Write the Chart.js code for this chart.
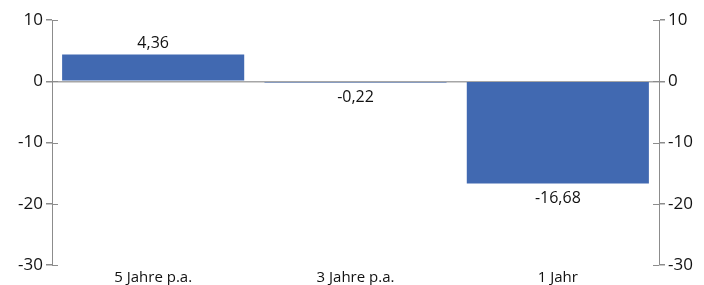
<!DOCTYPE html>
<html>
<head>
<meta charset="utf-8">
<script src="https://cdn.jsdelivr.net/npm/chart.js@4"></script>
<style>
  html, body { margin: 0; padding: 0; background: #fff; }
  #wrap { width: 704px; height: 285px; }
</style>
</head>
<body>
<div id="wrap"><canvas id="perfChart" width="704" height="285"></canvas></div>
<script>
// Wertentwicklung - bar chart, axes left and right
const categories = ['5 Jahre p.a.', '3 Jahre p.a.', '1 Jahr'];
const values = [4.36, -0.22, -16.68];
const yTicks = [10, 0, -10, -20, -30];

const BAR_COLOR = '#4169b1';
const AXIS_COLOR = '#8c8c8c';
const TEXT_COLOR = '#111';
const FONT = '"Open Sans", sans-serif';

function fmt(v) { return String(v.toFixed(2)).replace('.', ','); }

// value labels + tick marks crossing into the plot
const valueLabels = {
  id: 'valueLabels',
  afterDatasetsDraw(chart) {
    const ctx = chart.ctx;
    const meta = chart.getDatasetMeta(0);
    ctx.save();
    ctx.font = '16px ' + FONT;
    ctx.fillStyle = TEXT_COLOR;
    ctx.textAlign = 'center';
    meta.data.forEach((bar, i) => {
      const v = values[i];
      if (v >= 0) {
        ctx.textBaseline = 'bottom';
        ctx.fillText(fmt(v), bar.x, bar.y - 3);
      } else {
        ctx.textBaseline = 'top';
        ctx.fillText(fmt(v), bar.x, bar.y + 7);
      }
    });
    // inner half of the crossing ticks
    ctx.strokeStyle = AXIS_COLOR;
    ctx.lineWidth = 1;
    ['y', 'y2'].forEach(id => {
      const s = chart.scales[id];
      const x = id === 'y' ? s.right : s.left;
      const dir = id === 'y' ? 1 : -1;
      yTicks.forEach(t => {
        const py = Math.round(s.getPixelForValue(t)) + 0.5;
        ctx.beginPath();
        ctx.moveTo(x, py);
        ctx.lineTo(x + dir * 6, py);
        ctx.stroke();
      });
    });
    ctx.restore();
  }
};

const yScale = (pos) => ({
  position: pos,
  min: -30,
  max: 10,
  afterBuildTicks: s => { s.ticks = yTicks.map(v => ({ value: v })); },
  afterFit: s => { s.width = pos === 'left' ? 52 : 45; },
  border: { display: true, color: AXIS_COLOR, width: 1 },
  grid: {
    drawOnChartArea: pos === 'left',
    color: c => (c.tick && c.tick.value === 0) ? '#a6a6a6' : 'rgba(0,0,0,0)',
    lineWidth: 1.5,
    tickColor: AXIS_COLOR,
    tickLength: 6
  },
  ticks: {
    color: TEXT_COLOR,
    font: { family: FONT, size: 17 },
    padding: 3
  }
});

new Chart(document.getElementById('perfChart'), {
  type: 'bar',
  data: {
    labels: categories,
    datasets: [{
      data: values,
      backgroundColor: BAR_COLOR,
      borderWidth: 0,
      barPercentage: 1,
      categoryPercentage: 0.9,
      yAxisID: 'y'
    }]
  },
  options: {
    responsive: false,
    animation: false,
    devicePixelRatio: 1,
    layout: { padding: { top: 20, bottom: 0, left: 0, right: 0 } },
    plugins: { legend: { display: false }, tooltip: { enabled: false } },
    scales: {
      x: {
        afterFit: s => { s.height = 20; },
        border: { display: false },
        grid: { display: false, drawTicks: false },
        ticks: { color: TEXT_COLOR, font: { family: FONT, size: 15 }, padding: 4 }
      },
      y: yScale('left'),
      y2: yScale('right')
    }
  },
  plugins: [valueLabels]
});
</script>
</body>
</html>
